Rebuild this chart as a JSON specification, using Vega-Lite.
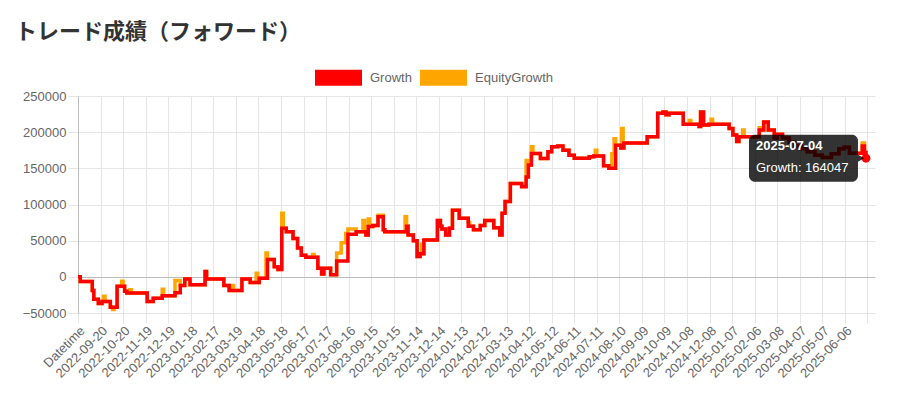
{
  "$schema": "https://vega.github.io/schema/vega-lite/v6.json",
  "width": 797,
  "height": 217,
  "autosize": "none",
  "padding": {"left": 78, "top": 96, "right": 28, "bottom": 82},
  "background": "white",
  "config": {"view": {"stroke": null}},
  "title": {"text": "トレード成績（フォワード）", "anchor": "start", "frame": "group", "dx": -63, "offset": 2, "font": "Noto Sans CJK JP", "fontSize": 22, "fontWeight": "bold", "color": "#333333"},
  "data": {"values": [
    {"Datetime": "2022-08-21", "Growth": 0, "EquityGrowth": 0},
    {"Datetime": "2022-08-24", "Growth": -6500, "EquityGrowth": -6500},
    {"Datetime": "2022-09-09", "Growth": -19000, "EquityGrowth": -19000},
    {"Datetime": "2022-09-11", "Growth": -31000, "EquityGrowth": -31000},
    {"Datetime": "2022-09-17", "Growth": -37000, "EquityGrowth": -37000},
    {"Datetime": "2022-09-22", "Growth": -34000, "EquityGrowth": -34000},
    {"Datetime": "2022-09-24", "Growth": -34000, "EquityGrowth": -27000},
    {"Datetime": "2022-09-26", "Growth": -34000, "EquityGrowth": -34000},
    {"Datetime": "2022-10-03", "Growth": -42000, "EquityGrowth": -42000},
    {"Datetime": "2022-10-06", "Growth": -42000, "EquityGrowth": -45000},
    {"Datetime": "2022-10-08", "Growth": -42000, "EquityGrowth": -42000},
    {"Datetime": "2022-10-12", "Growth": -13000, "EquityGrowth": -13000},
    {"Datetime": "2022-10-18", "Growth": -13000, "EquityGrowth": -6000},
    {"Datetime": "2022-10-20", "Growth": -13000, "EquityGrowth": -13000},
    {"Datetime": "2022-10-22", "Growth": -20000, "EquityGrowth": -20000},
    {"Datetime": "2022-10-25", "Growth": -22500, "EquityGrowth": -22500},
    {"Datetime": "2022-10-29", "Growth": -22500, "EquityGrowth": -18000},
    {"Datetime": "2022-10-31", "Growth": -22500, "EquityGrowth": -22500},
    {"Datetime": "2022-11-21", "Growth": -34000, "EquityGrowth": -34000},
    {"Datetime": "2022-11-29", "Growth": -29500, "EquityGrowth": -29500},
    {"Datetime": "2022-12-11", "Growth": -26000, "EquityGrowth": -17000},
    {"Datetime": "2022-12-13", "Growth": -26000, "EquityGrowth": -26000},
    {"Datetime": "2022-12-28", "Growth": -22000, "EquityGrowth": -5000},
    {"Datetime": "2023-01-04", "Growth": -12000, "EquityGrowth": -12000},
    {"Datetime": "2023-01-10", "Growth": -3000, "EquityGrowth": -3000},
    {"Datetime": "2023-01-17", "Growth": -11000, "EquityGrowth": -11000},
    {"Datetime": "2023-02-06", "Growth": 7500, "EquityGrowth": 7500},
    {"Datetime": "2023-02-08", "Growth": -3000, "EquityGrowth": -3000},
    {"Datetime": "2023-03-03", "Growth": -12000, "EquityGrowth": -12000},
    {"Datetime": "2023-03-10", "Growth": -19000, "EquityGrowth": -19000},
    {"Datetime": "2023-03-14", "Growth": -19000, "EquityGrowth": -12000},
    {"Datetime": "2023-03-16", "Growth": -19000, "EquityGrowth": -19000},
    {"Datetime": "2023-03-27", "Growth": -3000, "EquityGrowth": -3000},
    {"Datetime": "2023-04-07", "Growth": -8000, "EquityGrowth": -8000},
    {"Datetime": "2023-04-15", "Growth": -8000, "EquityGrowth": 5000},
    {"Datetime": "2023-04-17", "Growth": -8000, "EquityGrowth": -8000},
    {"Datetime": "2023-04-19", "Growth": -2000, "EquityGrowth": -2000},
    {"Datetime": "2023-04-28", "Growth": -2000, "EquityGrowth": 33000},
    {"Datetime": "2023-04-30", "Growth": 24000, "EquityGrowth": 24000},
    {"Datetime": "2023-05-09", "Growth": 14000, "EquityGrowth": 14000},
    {"Datetime": "2023-05-14", "Growth": 10000, "EquityGrowth": 10000},
    {"Datetime": "2023-05-19", "Growth": 67000, "EquityGrowth": 88000},
    {"Datetime": "2023-05-21", "Growth": 67000, "EquityGrowth": 67000},
    {"Datetime": "2023-05-25", "Growth": 62500, "EquityGrowth": 62500},
    {"Datetime": "2023-06-03", "Growth": 53000, "EquityGrowth": 53000},
    {"Datetime": "2023-06-09", "Growth": 40000, "EquityGrowth": 40000},
    {"Datetime": "2023-06-14", "Growth": 30000, "EquityGrowth": 30000},
    {"Datetime": "2023-06-20", "Growth": 27000, "EquityGrowth": 27000},
    {"Datetime": "2023-06-29", "Growth": 27000, "EquityGrowth": 31000},
    {"Datetime": "2023-07-01", "Growth": 27000, "EquityGrowth": 27000},
    {"Datetime": "2023-07-06", "Growth": 12000, "EquityGrowth": 12000},
    {"Datetime": "2023-07-11", "Growth": 4000, "EquityGrowth": 4000},
    {"Datetime": "2023-07-14", "Growth": 12000, "EquityGrowth": 12000},
    {"Datetime": "2023-07-23", "Growth": 3000, "EquityGrowth": 3000},
    {"Datetime": "2023-07-31", "Growth": 22000, "EquityGrowth": 33000},
    {"Datetime": "2023-08-06", "Growth": 22000, "EquityGrowth": 47000},
    {"Datetime": "2023-08-12", "Growth": 22000, "EquityGrowth": 60000},
    {"Datetime": "2023-08-15", "Growth": 59000, "EquityGrowth": 66000},
    {"Datetime": "2023-08-26", "Growth": 62500, "EquityGrowth": 62500},
    {"Datetime": "2023-09-04", "Growth": 62500, "EquityGrowth": 78000},
    {"Datetime": "2023-09-06", "Growth": 62500, "EquityGrowth": 62500},
    {"Datetime": "2023-09-08", "Growth": 58000, "EquityGrowth": 58000},
    {"Datetime": "2023-09-11", "Growth": 69500, "EquityGrowth": 80000},
    {"Datetime": "2023-09-13", "Growth": 69500, "EquityGrowth": 69500},
    {"Datetime": "2023-09-17", "Growth": 71000, "EquityGrowth": 71000},
    {"Datetime": "2023-09-24", "Growth": 83000, "EquityGrowth": 85000},
    {"Datetime": "2023-10-01", "Growth": 65000, "EquityGrowth": 65000},
    {"Datetime": "2023-10-03", "Growth": 62500, "EquityGrowth": 62500},
    {"Datetime": "2023-10-30", "Growth": 62500, "EquityGrowth": 83000},
    {"Datetime": "2023-11-01", "Growth": 70000, "EquityGrowth": 70000},
    {"Datetime": "2023-11-03", "Growth": 58000, "EquityGrowth": 58000},
    {"Datetime": "2023-11-10", "Growth": 50000, "EquityGrowth": 50000},
    {"Datetime": "2023-11-15", "Growth": 28000, "EquityGrowth": 28000},
    {"Datetime": "2023-11-19", "Growth": 32000, "EquityGrowth": 32000},
    {"Datetime": "2023-11-21", "Growth": 32000, "EquityGrowth": 45000},
    {"Datetime": "2023-11-23", "Growth": 32000, "EquityGrowth": 32000},
    {"Datetime": "2023-11-24", "Growth": 51000, "EquityGrowth": 51000},
    {"Datetime": "2023-12-12", "Growth": 78000, "EquityGrowth": 78000},
    {"Datetime": "2023-12-16", "Growth": 70000, "EquityGrowth": 70000},
    {"Datetime": "2023-12-18", "Growth": 66000, "EquityGrowth": 66000},
    {"Datetime": "2023-12-23", "Growth": 58000, "EquityGrowth": 58000},
    {"Datetime": "2023-12-28", "Growth": 67000, "EquityGrowth": 67000},
    {"Datetime": "2024-01-01", "Growth": 92000, "EquityGrowth": 92000},
    {"Datetime": "2024-01-10", "Growth": 81000, "EquityGrowth": 81000},
    {"Datetime": "2024-01-22", "Growth": 70000, "EquityGrowth": 75000},
    {"Datetime": "2024-01-24", "Growth": 70000, "EquityGrowth": 70000},
    {"Datetime": "2024-01-29", "Growth": 65000, "EquityGrowth": 65000},
    {"Datetime": "2024-02-07", "Growth": 71000, "EquityGrowth": 71000},
    {"Datetime": "2024-02-13", "Growth": 78000, "EquityGrowth": 78000},
    {"Datetime": "2024-02-25", "Growth": 68000, "EquityGrowth": 68000},
    {"Datetime": "2024-03-04", "Growth": 58000, "EquityGrowth": 58000},
    {"Datetime": "2024-03-07", "Growth": 88000, "EquityGrowth": 88000},
    {"Datetime": "2024-03-11", "Growth": 104000, "EquityGrowth": 104000},
    {"Datetime": "2024-03-18", "Growth": 129000, "EquityGrowth": 129000},
    {"Datetime": "2024-04-02", "Growth": 124500, "EquityGrowth": 128000},
    {"Datetime": "2024-04-08", "Growth": 138000, "EquityGrowth": 161000},
    {"Datetime": "2024-04-11", "Growth": 154500, "EquityGrowth": 154500},
    {"Datetime": "2024-04-15", "Growth": 170500, "EquityGrowth": 180000},
    {"Datetime": "2024-04-17", "Growth": 170500, "EquityGrowth": 170500},
    {"Datetime": "2024-04-27", "Growth": 163500, "EquityGrowth": 163500},
    {"Datetime": "2024-05-07", "Growth": 173000, "EquityGrowth": 173000},
    {"Datetime": "2024-05-12", "Growth": 180000, "EquityGrowth": 180000},
    {"Datetime": "2024-05-20", "Growth": 181000, "EquityGrowth": 181000},
    {"Datetime": "2024-05-27", "Growth": 175000, "EquityGrowth": 175000},
    {"Datetime": "2024-06-04", "Growth": 168000, "EquityGrowth": 168000},
    {"Datetime": "2024-06-11", "Growth": 164000, "EquityGrowth": 164000},
    {"Datetime": "2024-07-01", "Growth": 166000, "EquityGrowth": 166000},
    {"Datetime": "2024-07-07", "Growth": 167000, "EquityGrowth": 167000},
    {"Datetime": "2024-07-09", "Growth": 167000, "EquityGrowth": 175000},
    {"Datetime": "2024-07-11", "Growth": 167000, "EquityGrowth": 167000},
    {"Datetime": "2024-07-20", "Growth": 153500, "EquityGrowth": 153500},
    {"Datetime": "2024-07-27", "Growth": 150000, "EquityGrowth": 150000},
    {"Datetime": "2024-07-31", "Growth": 150000, "EquityGrowth": 170000},
    {"Datetime": "2024-08-03", "Growth": 150000, "EquityGrowth": 191000},
    {"Datetime": "2024-08-05", "Growth": 182000, "EquityGrowth": 182000},
    {"Datetime": "2024-08-12", "Growth": 178000, "EquityGrowth": 178000},
    {"Datetime": "2024-08-13", "Growth": 178000, "EquityGrowth": 205000},
    {"Datetime": "2024-08-15", "Growth": 178000, "EquityGrowth": 178000},
    {"Datetime": "2024-08-16", "Growth": 185000, "EquityGrowth": 185000},
    {"Datetime": "2024-09-16", "Growth": 193500, "EquityGrowth": 193500},
    {"Datetime": "2024-09-30", "Growth": 226000, "EquityGrowth": 226000},
    {"Datetime": "2024-10-07", "Growth": 228000, "EquityGrowth": 228000},
    {"Datetime": "2024-10-11", "Growth": 224000, "EquityGrowth": 224000},
    {"Datetime": "2024-10-15", "Growth": 226000, "EquityGrowth": 226000},
    {"Datetime": "2024-11-03", "Growth": 211000, "EquityGrowth": 211000},
    {"Datetime": "2024-11-11", "Growth": 211000, "EquityGrowth": 216000},
    {"Datetime": "2024-11-13", "Growth": 211000, "EquityGrowth": 211000},
    {"Datetime": "2024-11-24", "Growth": 208000, "EquityGrowth": 208000},
    {"Datetime": "2024-11-26", "Growth": 228000, "EquityGrowth": 228000},
    {"Datetime": "2024-11-30", "Growth": 210000, "EquityGrowth": 210000},
    {"Datetime": "2024-12-07", "Growth": 211000, "EquityGrowth": 211000},
    {"Datetime": "2024-12-10", "Growth": 211000, "EquityGrowth": 218000},
    {"Datetime": "2024-12-12", "Growth": 211000, "EquityGrowth": 211000},
    {"Datetime": "2025-01-03", "Growth": 205000, "EquityGrowth": 205000},
    {"Datetime": "2025-01-08", "Growth": 196000, "EquityGrowth": 196000},
    {"Datetime": "2025-01-13", "Growth": 187000, "EquityGrowth": 187000},
    {"Datetime": "2025-01-16", "Growth": 193500, "EquityGrowth": 193500},
    {"Datetime": "2025-01-21", "Growth": 193500, "EquityGrowth": 203000},
    {"Datetime": "2025-01-23", "Growth": 193500, "EquityGrowth": 193500},
    {"Datetime": "2025-02-12", "Growth": 203000, "EquityGrowth": 206000},
    {"Datetime": "2025-02-14", "Growth": 203000, "EquityGrowth": 203000},
    {"Datetime": "2025-02-18", "Growth": 214000, "EquityGrowth": 214000},
    {"Datetime": "2025-02-24", "Growth": 203000, "EquityGrowth": 203000},
    {"Datetime": "2025-03-04", "Growth": 192000, "EquityGrowth": 192000},
    {"Datetime": "2025-03-08", "Growth": 197000, "EquityGrowth": 197000},
    {"Datetime": "2025-03-15", "Growth": 192000, "EquityGrowth": 192000},
    {"Datetime": "2025-03-24", "Growth": 186000, "EquityGrowth": 186000},
    {"Datetime": "2025-03-31", "Growth": 181000, "EquityGrowth": 181000},
    {"Datetime": "2025-04-09", "Growth": 177000, "EquityGrowth": 177000},
    {"Datetime": "2025-04-17", "Growth": 173000, "EquityGrowth": 173000},
    {"Datetime": "2025-04-27", "Growth": 168000, "EquityGrowth": 168000},
    {"Datetime": "2025-05-07", "Growth": 165000, "EquityGrowth": 165000},
    {"Datetime": "2025-05-19", "Growth": 170000, "EquityGrowth": 170000},
    {"Datetime": "2025-05-29", "Growth": 177000, "EquityGrowth": 177000},
    {"Datetime": "2025-06-05", "Growth": 179000, "EquityGrowth": 179000},
    {"Datetime": "2025-06-12", "Growth": 171000, "EquityGrowth": 171000},
    {"Datetime": "2025-06-29", "Growth": 181000, "EquityGrowth": 185000},
    {"Datetime": "2025-07-02", "Growth": 172000, "EquityGrowth": 172000},
    {"Datetime": "2025-07-04", "Growth": 164047, "EquityGrowth": 164047}
  ]},
  "transform": [{"fold": ["Growth", "EquityGrowth"], "as": ["series", "value"]}],
  "encoding": {
    "x": {
      "field": "Datetime", "type": "temporal",
      "scale": {"type": "utc", "domain": [{"year": 2022, "month": 8, "date": 21, "utc": true}, {"year": 2025, "month": 7, "date": 16, "utc": true}]},
      "axis": {
        "title": null,
        "values": [
          {"year": 2022, "month": 8, "date": 21, "utc": true},
          {"year": 2022, "month": 9, "date": 20, "utc": true},
          {"year": 2022, "month": 10, "date": 20, "utc": true},
          {"year": 2022, "month": 11, "date": 19, "utc": true},
          {"year": 2022, "month": 12, "date": 19, "utc": true},
          {"year": 2023, "month": 1, "date": 18, "utc": true},
          {"year": 2023, "month": 2, "date": 17, "utc": true},
          {"year": 2023, "month": 3, "date": 19, "utc": true},
          {"year": 2023, "month": 4, "date": 18, "utc": true},
          {"year": 2023, "month": 5, "date": 18, "utc": true},
          {"year": 2023, "month": 6, "date": 17, "utc": true},
          {"year": 2023, "month": 7, "date": 17, "utc": true},
          {"year": 2023, "month": 8, "date": 16, "utc": true},
          {"year": 2023, "month": 9, "date": 15, "utc": true},
          {"year": 2023, "month": 10, "date": 15, "utc": true},
          {"year": 2023, "month": 11, "date": 14, "utc": true},
          {"year": 2023, "month": 12, "date": 14, "utc": true},
          {"year": 2024, "month": 1, "date": 13, "utc": true},
          {"year": 2024, "month": 2, "date": 12, "utc": true},
          {"year": 2024, "month": 3, "date": 13, "utc": true},
          {"year": 2024, "month": 4, "date": 12, "utc": true},
          {"year": 2024, "month": 5, "date": 12, "utc": true},
          {"year": 2024, "month": 6, "date": 11, "utc": true},
          {"year": 2024, "month": 7, "date": 11, "utc": true},
          {"year": 2024, "month": 8, "date": 10, "utc": true},
          {"year": 2024, "month": 9, "date": 9, "utc": true},
          {"year": 2024, "month": 10, "date": 9, "utc": true},
          {"year": 2024, "month": 11, "date": 8, "utc": true},
          {"year": 2024, "month": 12, "date": 8, "utc": true},
          {"year": 2025, "month": 1, "date": 7, "utc": true},
          {"year": 2025, "month": 2, "date": 6, "utc": true},
          {"year": 2025, "month": 3, "date": 8, "utc": true},
          {"year": 2025, "month": 4, "date": 7, "utc": true},
          {"year": 2025, "month": 5, "date": 7, "utc": true},
          {"year": 2025, "month": 6, "date": 6, "utc": true},
          {"year": 2025, "month": 7, "date": 6, "utc": true}
        ],
        "labelExpr": "utcFormat(datum.value, '%Y-%m-%d') == '2022-08-21' ? 'Datetime' : (utcFormat(datum.value, '%Y-%m-%d') == '2025-07-06' ? '' : utcFormat(datum.value, '%Y-%m-%d'))",
        "labelAngle": -45,
        "labelAlign": "right",
        "labelBaseline": "top",
        "labelPadding": 1,
        "labelOverlap": false,
        "labelBound": false,
        "labelFlush": false,
        "labelFont": "Liberation Sans",
        "labelFontSize": 13,
        "labelColor": "#666666",
        "tickSize": 10,
        "tickColor": "#e5e5e5",
        "grid": true,
        "gridColor": {"condition": {"test": "utcFormat(datum.value, '%Y-%m-%d') == '2022-08-21'", "value": "#bdbdbd"}, "value": "#e5e5e5"},
        "domain": false
      }
    },
    "y": {
      "field": "value", "type": "quantitative",
      "scale": {"domain": [-50000, 250000], "nice": false, "zero": false},
      "axis": {
        "title": null,
        "values": [-50000, 0, 50000, 100000, 150000, 200000, 250000],
        "format": "d",
        "labelFont": "Liberation Sans",
        "labelFontSize": 13,
        "labelColor": "#666666",
        "labelPadding": 2,
        "tickSize": 10,
        "tickColor": "#e5e5e5",
        "grid": true,
        "gridColor": {"condition": {"test": "datum.value === 0", "value": "#bdbdbd"}, "value": "#e5e5e5"},
        "domain": true,
        "domainColor": "#bdbdbd"
      }
    }
  },
  "layer": [
    {
      "transform": [{"filter": "datum.series == 'EquityGrowth'"}],
      "mark": {"type": "line", "interpolate": "step-after", "strokeWidth": 3.5},
      "encoding": {
        "color": {"field": "series", "type": "nominal",
          "scale": {"domain": ["Growth", "EquityGrowth"], "range": ["#ff0000", "#ffa500"]},
          "legend": {"orient": "none", "legendX": 229, "legendY": -50, "direction": "horizontal", "title": null,
            "symbolType": "stroke", "symbolSize": 2209, "symbolStrokeWidth": 16,
            "labelFont": "Liberation Sans", "labelFontSize": 13, "labelColor": "#666666",
            "labelOffset": 0, "columnPadding": -26}}
      }
    },
    {
      "transform": [{"filter": "datum.series == 'Growth'"}],
      "mark": {"type": "line", "interpolate": "step-after", "strokeWidth": 3.5},
      "encoding": {
        "color": {"field": "series", "type": "nominal"}
      }
    },
    {
      "transform": [{"filter": "datum.series == 'Growth' && datum.value == 164047"}],
      "mark": {"type": "point", "filled": true, "size": 80, "color": "#ff0000", "opacity": 1}
    },
    {
      "transform": [{"filter": "datum.series == 'Growth' && datum.value == 164047"}],
      "mark": {"type": "rect", "width": 109, "height": 47, "xOffset": -62.5, "cornerRadius": 6, "color": "#000000", "opacity": 0.8}
    },
    {
      "transform": [{"filter": "datum.series == 'Growth' && datum.value == 164047"}],
      "mark": {"type": "point", "shape": "triangle-right", "filled": true, "size": 50, "xOffset": -5, "color": "#000000", "opacity": 0.8}
    },
    {
      "transform": [{"filter": "datum.series == 'Growth' && datum.value == 164047"}],
      "mark": {"type": "text", "text": "2025-07-04", "align": "left", "baseline": "middle", "dx": -110, "dy": -12, "font": "Liberation Sans", "fontSize": 13, "fontWeight": "bold", "color": "#ffffff"}
    },
    {
      "transform": [{"filter": "datum.series == 'Growth' && datum.value == 164047"}],
      "mark": {"type": "text", "text": "Growth: 164047", "align": "left", "baseline": "middle", "dx": -110, "dy": 10, "font": "Liberation Sans", "fontSize": 13, "color": "#ffffff"}
    }
  ]
}
